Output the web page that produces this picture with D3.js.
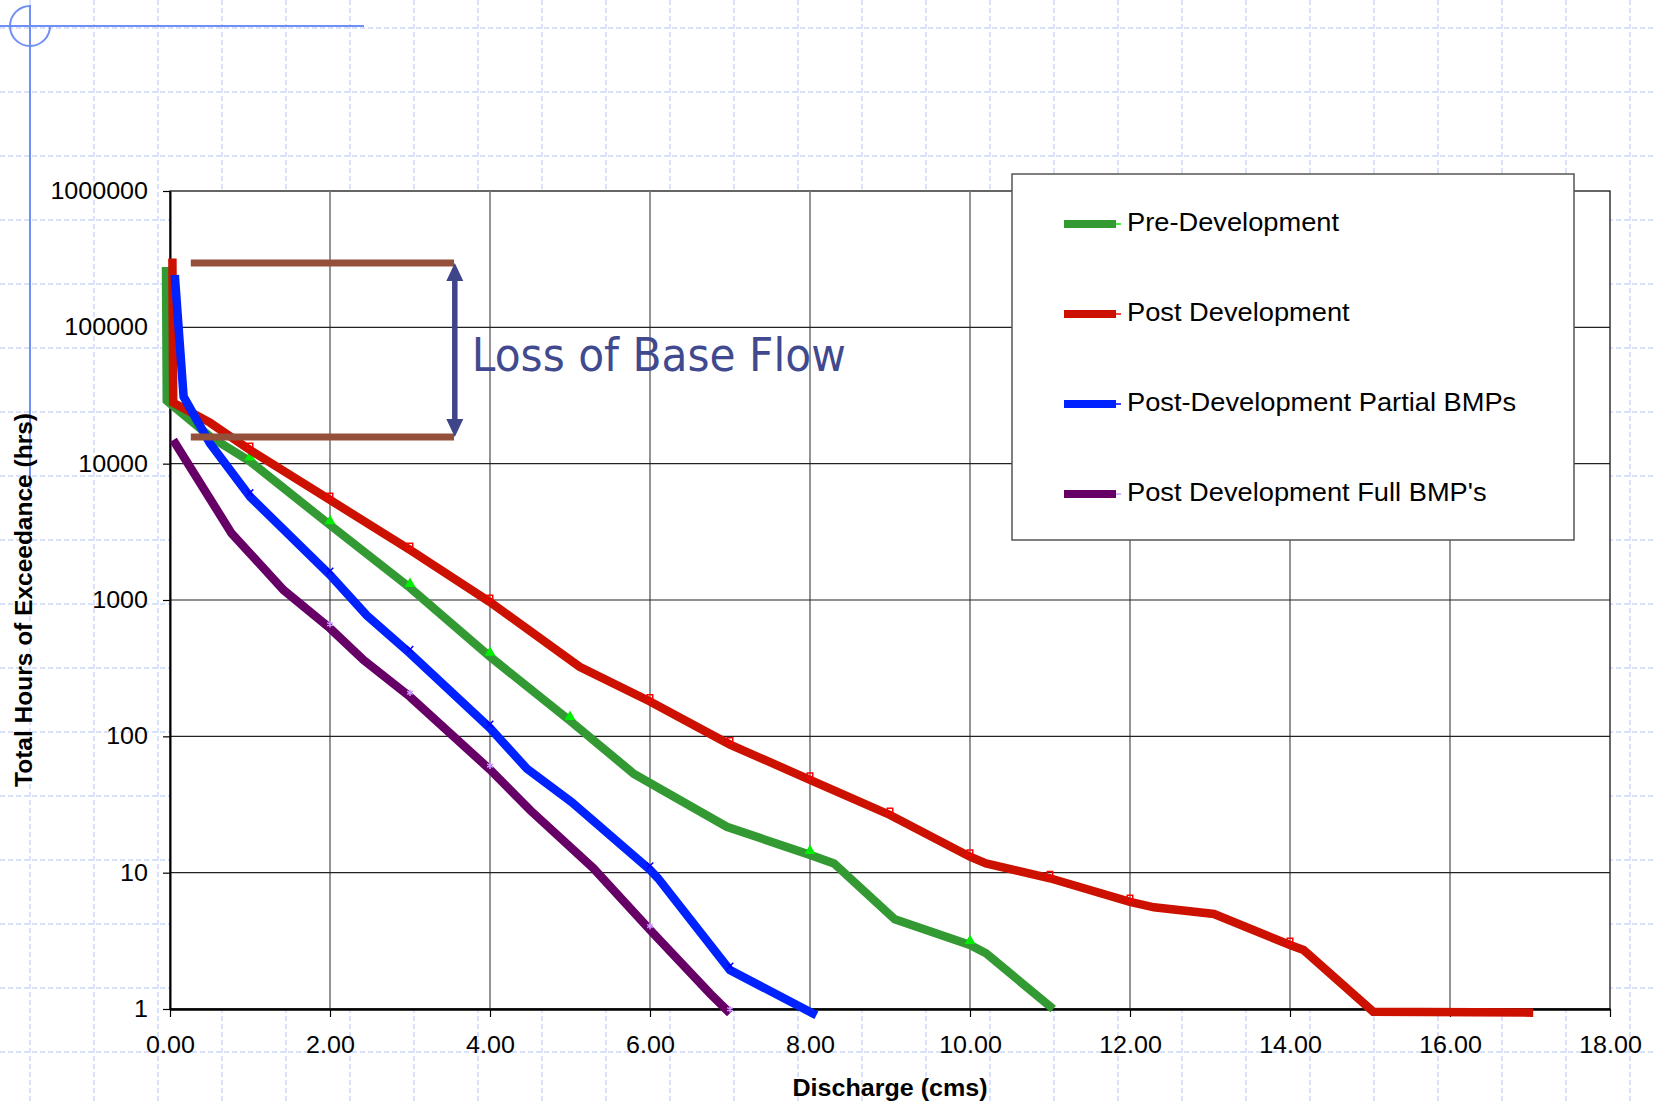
<!DOCTYPE html>
<meta charset="utf-8" />
<style>
  body { margin: 0; background: #fff; }
  text { font-family: "Liberation Sans", Arial, sans-serif; fill: #000; }
  .axis path, .axis line { stroke: #000; }
  .page-grid line { stroke: #d9e1fb; stroke-width: 2; stroke-dasharray: 5,3; }
  .note { font-family: "DejaVu Sans", Verdana, sans-serif; fill: #414a8e; }
</style>
<svg width="1656" height="1103"></svg>
<script src="https://d3js.org/d3.v7.min.js"></script>
<script>
  // flow duration: discharge (cms) vs total hours of exceedance (hrs)
  var preX = [-0.05, -0.04, 0.5, 1, 2, 3, 4, 5, 5.8, 6.96, 8, 8.3, 9.06, 10, 10.2, 11.04];
  var preY = [277000, 29000, 15800, 10400, 3550, 1230, 384, 130, 53, 21.7, 13.5, 11.7, 4.55, 2.95, 2.56, 1.0];

  var postX = [0.03, 0.04, 0.5, 1, 2, 3, 4, 5.12, 6, 7, 8, 9, 10, 10.2, 11, 12, 12.3, 13.05, 14, 14.17, 15.04, 17.04];
  var postY = [320000, 28000, 20000, 12600, 5420, 2330, 965, 324, 180, 87, 48, 26.5, 13.1, 11.7, 9.1, 6.1, 5.57, 4.98, 2.95, 2.71, 0.955, 0.94];

  var partX = [0.06, 0.17, 0.5, 1, 2, 2.46, 3, 4, 4.46, 5.02, 6, 6.1, 7, 8.08];
  var partY = [242000, 31000, 14100, 5730, 1525, 770, 406, 115, 58, 33, 10.5, 9.1, 1.93, 0.9];

  var fullX = [0.04, 0.77, 1.42, 2, 2.42, 3, 4, 4.5, 5.29, 6, 6.75, 7];
  var fullY = [14900, 3080, 1183, 620, 363, 195, 57, 28.8, 10.8, 3.8, 1.3, 0.93];

  var seriesNames = ["Pre-Development", "Post Development", "Post-Development Partial BMPs", "Post Development Full BMP's"];
  var seriesColors = ["#339933", "#cc1100", "#0022ff", "#660066"];
  var markerColors = ["#00ee00", "#ff0000", "#0000ff", "#cc99ff"];

  var xTicks = [0, 2, 4, 6, 8, 10, 12, 14, 16, 18];
  var yTicks = [1, 10, 100, 1000, 10000, 100000, 1000000];

  // "Loss of Base Flow" annotation: two bars and the arrow between them
  var barX = [0.26, 3.55];
  var barLevels = [296000, 15700];
  var arrowX = 3.56;

  var svg = d3.select("svg"),
    width = +svg.attr("width"),
    height = +svg.attr("height");

  var margin = { top: 191, right: 46, bottom: 94, left: 170 };

  var x = d3.scaleLinear().domain([0, 18]).range([margin.left, width - margin.right]);
  var y = d3.scaleLog().domain([1, 1000000]).range([height - margin.bottom, margin.top]);

  var series = seriesNames.map(function (name, i) {
    var xs = [preX, postX, partX, fullX][i],
      ys = [preY, postY, partY, fullY][i];
    return {
      name: name,
      color: seriesColors[i],
      marker: markerColors[i],
      symbol: [d3.symbolTriangle, d3.symbolSquare, d3.symbolTimes || d3.symbolCross, d3.symbolAsterisk || d3.symbolStar][i],
      values: xs.map(function (v, j) { return { x: v, y: ys[j] }; })
    };
  });

  // stretch text horizontally (chart was scaled a bit wider on the slide)
  function widen(sel, k) {
    sel.each(function () {
      var w = this.getComputedTextLength();
      d3.select(this).attr("textLength", w * k).attr("lengthAdjust", "spacingAndGlyphs");
    });
  }

  // slide background: dashed layout grid
  var pg = svg.append("g").attr("class", "page-grid");
  pg.selectAll(".v").data(d3.range(30, width, 64)).enter().append("line")
    .attr("x1", function (d) { return d; }).attr("x2", function (d) { return d; })
    .attr("y1", 0).attr("y2", height);
  pg.selectAll(".h").data(d3.range(28, height, 64)).enter().append("line")
    .attr("y1", function (d) { return d; }).attr("y2", function (d) { return d; })
    .attr("x1", 0).attr("x2", width);

  // crosshair decoration top-left
  var cross = svg.append("g").attr("stroke", "#6f8ff5").attr("stroke-width", 2).attr("fill", "none");
  var arcPath = d3.path();
  arcPath.arc(30, 26, 20, 0, Math.PI * 1.5);
  cross.append("path").attr("d", arcPath.toString());
  cross.append("line").attr("x1", 0).attr("x2", 364).attr("y1", 26).attr("y2", 26);
  cross.append("line").attr("x1", 30).attr("x2", 30).attr("y1", 5).attr("y2", 488);

  // plot area
  svg.append("rect")
    .attr("x", x(0)).attr("y", y(1000000))
    .attr("width", x(18) - x(0)).attr("height", y(1) - y(1000000))
    .attr("fill", "#fff").attr("stroke", "#000").attr("stroke-width", 1.2);

  svg.append("g").selectAll("line").data(xTicks.slice(1, -1)).enter().append("line")
    .attr("x1", function (d) { return x(d); }).attr("x2", function (d) { return x(d); })
    .attr("y1", y(1)).attr("y2", y(1000000))
    .attr("stroke", "#7a7a7a").attr("stroke-width", 1.6);

  svg.append("g").selectAll("line").data(yTicks.slice(1, -1)).enter().append("line")
    .attr("y1", function (d) { return y(d); }).attr("y2", function (d) { return y(d); })
    .attr("x1", x(0)).attr("x2", x(18))
    .attr("stroke", "#222").attr("stroke-width", 1.2);

  // axes
  var xAxis = svg.append("g").attr("class", "axis")
    .attr("transform", "translate(0," + y(1) + ")")
    .call(d3.axisBottom(x).tickValues(xTicks).tickFormat(d3.format(".2f")).tickSize(8).tickSizeOuter(0).tickPadding(20));
  xAxis.select(".domain").attr("stroke-width", 2.5);
  xAxis.selectAll("line").attr("stroke-width", 1.2);
  xAxis.selectAll("text").attr("font-size", 23).call(widen, 1.09);

  var yAxis = svg.append("g").attr("class", "axis")
    .attr("transform", "translate(" + x(0) + ",0)")
    .call(d3.axisLeft(y).tickValues(yTicks).tickFormat(d3.format("d")).tickSize(7).tickSizeOuter(0).tickPadding(15));
  yAxis.select(".domain").attr("stroke-width", 2);
  yAxis.selectAll("line").attr("stroke-width", 1.2);
  yAxis.selectAll("text").attr("font-size", 23).call(widen, 1.09);

  svg.append("text")
    .attr("x", (x(0) + x(18)) / 2).attr("y", height - 7)
    .attr("text-anchor", "middle").attr("font-size", 23).attr("font-weight", "bold")
    .text("Discharge (cms)").call(widen, 1.09);

  svg.append("text")
    .attr("transform", "translate(32," + (y(1) + y(1000000)) / 2 + ") rotate(-90)")
    .attr("text-anchor", "middle").attr("font-size", 24.5).attr("font-weight", "bold")
    .text("Total Hours of Exceedance (hrs)");

  // series
  var line = d3.line()
    .x(function (d) { return x(d.x); })
    .y(function (d) { return y(d.y); });

  var sg = svg.append("g").selectAll("g").data(series).enter().append("g");

  sg.append("path")
    .attr("d", function (d) { return line(d.values); })
    .attr("fill", "none")
    .attr("stroke", function (d) { return d.color; })
    .attr("stroke-width", 8.5)
    .attr("stroke-linejoin", "miter")
    .attr("stroke-miterlimit", 3);

  sg.each(function (s) {
    d3.select(this).selectAll(".mk")
      .data(s.values.filter(function (d) { return Number.isInteger(d.x); }))
      .enter().append("path")
      .attr("transform", function (d) { return "translate(" + x(d.x) + "," + (y(d.y) - 4) + ")"; })
      .attr("d", d3.symbol().type(s.symbol).size(30))
      .attr("fill", s.symbol === d3.symbolTriangle ? s.marker : "none")
      .attr("stroke", s.marker)
      .attr("stroke-width", 1.5);
  });

  // legend
  var legend = svg.append("g");
  legend.append("rect")
    .attr("x", 1012).attr("y", 174).attr("width", 562).attr("height", 366)
    .attr("fill", "#fff").attr("stroke", "#555").attr("stroke-width", 1.5);

  var li = legend.selectAll(".item").data(series).enter().append("g")
    .attr("transform", function (d, i) { return "translate(1064," + (224 + i * 90) + ")"; });
  li.append("line").attr("x1", 0).attr("x2", 57).attr("y1", 0).attr("y2", 0)
    .attr("stroke", function (d) { return d.marker; }).attr("stroke-width", 1.5);
  li.append("line").attr("x1", 0).attr("x2", 52).attr("y1", 0).attr("y2", 0)
    .attr("stroke", function (d) { return d.color; }).attr("stroke-width", 8);
  li.append("text").attr("x", 63).attr("y", 7)
    .attr("font-size", 25)
    .text(function (d) { return d.name; })
    .call(widen, 1.09);

  // annotation
  var ann = svg.append("g");
  ann.selectAll(".bar").data(barLevels).enter().append("line")
    .attr("x1", x(barX[0])).attr("x2", x(barX[1]))
    .attr("y1", function (d) { return y(d); }).attr("y2", function (d) { return y(d); })
    .attr("stroke", "#93503a").attr("stroke-width", 7);

  var ay0 = y(barLevels[0]), ay1 = y(barLevels[1]), ax = x(arrowX), head = 18, half = 8.5;
  ann.append("line")
    .attr("x1", ax).attr("x2", ax).attr("y1", ay0 + head - 2).attr("y2", ay1 - head + 2)
    .attr("stroke", "#3f4589").attr("stroke-width", 5.5);
  ann.append("path")
    .attr("d", "M" + ax + "," + ay0 + "L" + (ax + half) + "," + (ay0 + head) + "L" + (ax - half) + "," + (ay0 + head) + "Z" +
      "M" + ax + "," + ay1 + "L" + (ax + half) + "," + (ay1 - head) + "L" + (ax - half) + "," + (ay1 - head) + "Z")
    .attr("fill", "#3f4589");

  var note = ann.append("text")
    .attr("class", "note")
    .attr("x", ax + 17).attr("y", 371)
    .attr("font-size", 47)
    .text("Loss of Base Flow");
  // squeeze to the Tahoma-like width of the original
  note.attr("textLength", 374).attr("lengthAdjust", "spacingAndGlyphs");
</script>
